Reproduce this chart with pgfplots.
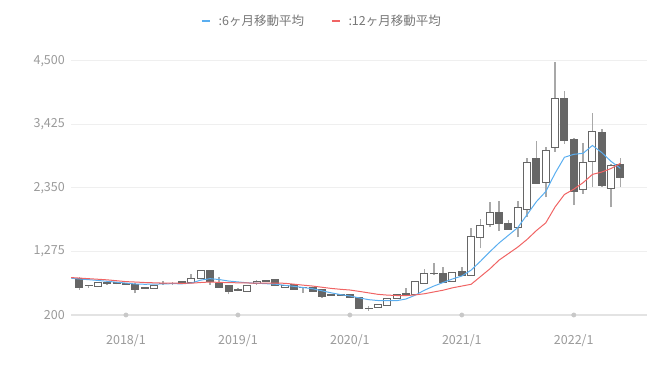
\documentclass[border=0pt]{standalone}
\usepackage{pgfplots}
\pgfplotsset{compat=1.18}
\usepackage{pgfplotstable}
\usepackage{fontspec}
\setmainfont{Noto Sans CJK JP}
\definecolor{tickc}{HTML}{9A9A9A}
\definecolor{gridc}{HTML}{EFEFEF}
\definecolor{basec}{HTML}{E3E3E3}
\definecolor{bodyc}{HTML}{666666}
\definecolor{wickc}{HTML}{A8A8A8}
\definecolor{dotc}{HTML}{C8C8C8}
\definecolor{ma6c}{HTML}{5AAEF0}
\definecolor{ma12c}{HTML}{F06464}
\definecolor{legc}{HTML}{777777}
\newcommand{\tf}{\fontsize{12.5}{15}\selectfont}

% monthly candles: index 0 = 2017/8 ... 58 = 2022/6
\pgfplotstableread{
i o h l c
0 826 845 630 669
1 700 708 665 705
2 686 760 680 753
3 747 755 715 725
4 738 760 720 742
5 740 745 705 710
6 708 740 567 635
7 655 682 640 672
8 652 712 645 703
9 730 775 715 737
10 735 765 710 740
11 755 775 735 760
12 753 889 745 821
13 821 950 815 945
14 945 950 708 775
15 725 843 655 662
16 691 695 550 606
17 620 650 600 625
18 606 710 600 703
19 725 785 715 770
20 770 795 760 778
21 800 815 695 700
22 670 712 665 705
23 708 715 635 640
24 665 680 575 670
25 662 668 600 606
26 640 645 495 505
27 535 548 528 540
28 538 548 530 541
29 545 550 480 495
30 490 495 305 313
31 310 352 270 318
32 330 390 325 381
33 364 490 360 483
34 483 545 478 539
35 552 652 548 560
36 550 765 545 759
37 737 974 730 906
38 900 1085 877 910
39 910 1005 745 750
40 764 930 760 923
41 933 1005 860 865
42 877 1668 870 1526
43 1515 1820 1329 1707
44 1724 2118 1685 1939
45 1939 2135 1627 1741
46 1752 1808 1640 1651
47 1685 2135 1515 2023
48 1990 2853 1854 2785
49 2853 3146 2425 2430
50 2447 3038 2193 2993
51 3039 4489 2965 3869
52 3869 3992 3100 3151
53 3163 3202 2062 2287
54 2328 3111 2249 2785
55 2807 3625 2372 3305
56 3287 3349 2372 2384
57 2344 2756 2023 2727
58 2756 2863 2372 2525
}\candles

\pgfplotstableread{
i ma6 ma12
-1 825 835
0 810 825
1 798 815
2 785 805
3 770 795
4 755 780
5 740 765
6 725 758
7 720 750
8 722 745
9 727 740
10 730 738
11 728 737
12 740 738
13 790 750
14 815 758
15 800 752
16 775 748
17 760 745
18 745 742
19 738 740
20 730 740
21 722 740
22 703 737
23 685 722
24 665 705
25 645 690
26 610 670
27 575 650
28 545 635
29 522 623
30 490 600
31 460 575
32 445 550
33 442 537
34 442 530
35 470 528
36 535 540
37 620 560
38 690 590
39 750 620
40 810 660
41 860 690
42 960 720
43 1110 850
44 1270 980
45 1420 1130
46 1550 1240
47 1680 1350
48 1900 1480
49 2120 1630
50 2290 1760
51 2600 2030
52 2870 2240
53 2920 2330
54 2937 2440
55 3070 2580
56 2950 2620
57 2800 2680
58 2683 2768
}\ma

\pgfplotsset{
  base/.style={
    scale only axis, width=576pt, height=254pt,
    at={(71pt,56pt)}, anchor=south west,
    xmin=-0.89, xmax=60.85, ymin=200, ymax=4500,
  },
}

\begin{document}
\begin{tikzpicture}[x=1pt,y=1pt]
\useasboundingbox (0,0) rectangle (647,371);
% background: grid, ticks, wicks
\begin{axis}[base, clip=false,
  axis line style={draw=none}, tick style={draw=none},
  ymajorgrids, grid style={gridc, line width=1pt},
  ytick={1275,2350,3425,4500},
  extra y ticks={200},
  extra y tick style={grid style={basec, line width=1.5pt}},
  xtick={5,17,29,41,53},
  xticklabels={2018/1,2019/1,2020/1,2021/1,2022/1},
  /pgf/number format/.cd, 1000 sep={,}, assume math mode=true, /pgfplots/.cd,
  y tick label style={font=\tf, text=tickc, inner sep=0pt, anchor=east, xshift=-6pt},
  x tick label style={font=\tf, text=tickc, inner sep=0pt, anchor=north, yshift=-19pt},
]
\addplot[draw=none, error bars/.cd, y dir=plus, y explicit, error mark=none,
  error bar style={wickc, line width=1.6pt}]
  table[x=i, y=l, y error plus expr={\thisrow{h}-\thisrow{l}}] {\candles};
\addplot[dotc, only marks, mark=*, mark size=2.2pt, mark options={draw=dotc, fill=dotc}]
  coordinates {(5,200) (17,200) (29,200) (41,200) (53,200)};
\end{axis}
% candle bodies
\begin{axis}[base, hide axis, ybar stacked, bar width=7pt]
\addplot[draw=none, fill=none] table[x=i, y expr={min(\thisrow{o},\thisrow{c})}] {\candles};
\addplot[draw=bodyc, fill=bodyc, line width=1pt] table[x=i, y expr={max(\thisrow{o}-\thisrow{c},0)}] {\candles};
\addplot[draw=bodyc, fill=white, line width=1pt] table[x=i, y expr={max(\thisrow{c}-\thisrow{o},0)}] {\candles};
\end{axis}
% moving averages and legend
\begin{axis}[base, hide axis,
  legend columns=2,
  legend image code/.code={\draw[#1, line width=1.5pt] (0pt,0pt) -- (8pt,0pt);},
  legend style={at={(axis description cs:0.434,1.157)}, anchor=center,
    draw=none, fill=none, font=\tf, text=legc,
    nodes={inner sep=0pt},
    /tikz/every odd column/.append style={column sep=8pt},
    /tikz/every even column/.append style={column sep=27pt}},
]
\addplot[ma6c, line width=1pt] table[x=i, y=ma6] {\ma};
\addlegendentry{:6ヶ月移動平均}
\addplot[ma12c, line width=1pt] table[x=i, y=ma12] {\ma};
\addlegendentry{:12ヶ月移動平均}
\end{axis}
\end{tikzpicture}
\end{document}
